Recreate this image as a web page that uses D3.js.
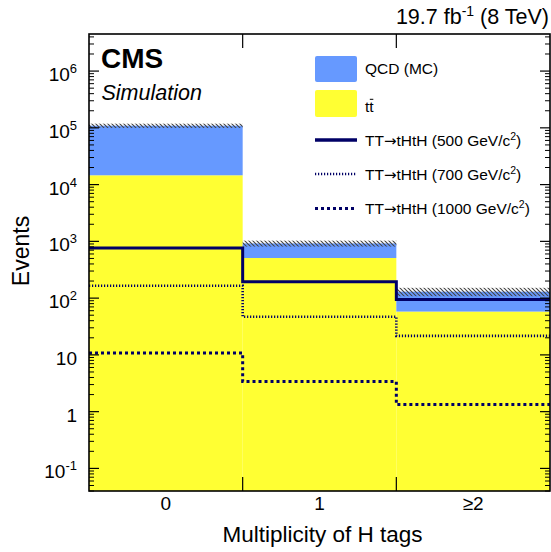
<!DOCTYPE html>
<html>
<head>
<meta charset="utf-8">
<script src="https://cdn.jsdelivr.net/npm/d3@7"></script>
<style>
  html, body { margin: 0; padding: 0; background: #fff; }
  svg { display: block; font-family: "Liberation Sans", Arial, Helvetica, sans-serif; }
</style>
</head>
<body>
<svg id="chart" width="551" height="552"></svg>
<script>
// ---------------- data ----------------
const categories = ["0", "1", "≥2"];
const ttbar   = [14600, 509, 58];
const qcd     = [94400, 411, 72];
const bkgErr  = [9500, 110, 22];
const sig500  = [766, 194, 95];
const sig700  = [165, 47, 21.6];
const sig1000 = [10.8, 3.4, 1.33];
const yMajorTicks = [0.1, 1, 10, 100, 1000, 10000, 100000, 1000000];
const yTickLabels = [["10", "-1"], ["1", ""], ["10", ""], ["10", "2"], ["10", "3"], ["10", "4"], ["10", "5"], ["10", "6"]];

// ---------------- layout ----------------
const svg = d3.select("#chart");
const L = 89, R = 550, T = 34, B = 491;
const x = d3.scaleBand().domain(categories).range([L, R]).paddingInner(0).paddingOuter(0);
const y = d3.scaleLog().domain([0.04, 4.5e6]).range([B, T]);

const blue = "#6699ff", yellow = "#ffff33", navy = "#000066";

const defs = svg.append("defs");
const pat = defs.append("pattern").attr("id", "hatch")
  .attr("patternUnits", "userSpaceOnUse").attr("width", 4).attr("height", 4);
pat.append("path").attr("d", "M-1,-1 L5,5 M3,-1 L5,1 M-1,3 L1,5")
  .attr("stroke", "#444").attr("stroke-width", 1.1);

const totals = ttbar.map((t, i) => t + qcd[i]);

// stacked fills
const g = svg.append("g");
g.selectAll("rect.tt").data(categories).join("rect")
  .attr("x", d => x(d)).attr("width", x.bandwidth())
  .attr("y", (d, i) => y(ttbar[i])).attr("height", (d, i) => B - y(ttbar[i]))
  .attr("fill", yellow);
g.selectAll("rect.qcd").data(categories).join("rect")
  .attr("x", d => x(d)).attr("width", x.bandwidth())
  .attr("y", (d, i) => y(totals[i])).attr("height", (d, i) => y(ttbar[i]) - y(totals[i]))
  .attr("fill", blue);
// uncertainty band
g.selectAll("rect.err").data(categories).join("rect")
  .attr("x", d => x(d)).attr("width", x.bandwidth())
  .attr("y", (d, i) => y(totals[i] + bkgErr[i]))
  .attr("height", (d, i) => y(totals[i] - bkgErr[i]) - y(totals[i] + bkgErr[i]))
  .attr("fill", "url(#hatch)");

// signal step lines
function stepPts(vals) {
  const pts = categories.map((c, i) => [x(c), y(vals[i])]);
  pts.push([R, y(vals[vals.length - 1])]);
  return pts;
}
const line = d3.line().curve(d3.curveStepAfter);
g.append("path").attr("d", line(stepPts(sig500))).attr("fill", "none")
  .attr("stroke", navy).attr("stroke-width", 3);
g.append("path").attr("d", line(stepPts(sig700))).attr("fill", "none")
  .attr("stroke", navy).attr("stroke-width", 2.6).attr("stroke-dasharray", "1.2,1.8");
g.append("path").attr("d", line(stepPts(sig1000))).attr("fill", "none")
  .attr("stroke", navy).attr("stroke-width", 3).attr("stroke-dasharray", "3,3");

// ---------------- axes / frame ----------------
const minor = [];
for (let k = -2; k <= 6; k++) for (let m = 2; m <= 9; m++) {
  const v = m * Math.pow(10, k);
  if (v >= 0.04 && v <= 4.5e6) minor.push(v);
}
const ax = svg.append("g").attr("stroke", "#000");
yMajorTicks.forEach(v => {
  ax.append("line").attr("x1", L).attr("x2", L + 10).attr("y1", y(v)).attr("y2", y(v)).attr("stroke-width", 1.2);
  ax.append("line").attr("x1", R).attr("x2", R - 10).attr("y1", y(v)).attr("y2", y(v)).attr("stroke-width", 1.2);
});
minor.forEach(v => {
  ax.append("line").attr("x1", L).attr("x2", L + 5).attr("y1", y(v)).attr("y2", y(v)).attr("stroke-width", 1);
  ax.append("line").attr("x1", R).attr("x2", R - 5).attr("y1", y(v)).attr("y2", y(v)).attr("stroke-width", 1);
});
categories.slice(1).forEach(c => {
  ax.append("line").attr("x1", x(c)).attr("x2", x(c)).attr("y1", B).attr("y2", B - 14).attr("stroke-width", 1.2);
  ax.append("line").attr("x1", x(c)).attr("x2", x(c)).attr("y1", T).attr("y2", T + 14).attr("stroke-width", 1.2);
});
ax.append("rect").attr("x", L).attr("y", T).attr("width", R - L).attr("height", B - T)
  .attr("fill", "none").attr("stroke-width", 1.6);

// y tick labels
yMajorTicks.forEach((v, i) => {
  const t = svg.append("text").attr("x", 77).attr("y", y(v) + 10)
    .attr("text-anchor", "end").attr("font-size", 19).attr("fill", "#000");
  t.append("tspan").text(yTickLabels[i][0]);
  if (yTickLabels[i][1]) t.append("tspan").attr("dy", -8).attr("font-size", 13).text(yTickLabels[i][1]);
});
// x tick labels
categories.forEach(c => {
  svg.append("text").attr("x", x(c) + x.bandwidth() / 2).attr("y", 510)
    .attr("text-anchor", "middle").attr("font-size", 19).text(c);
});
// axis titles
svg.append("text").attr("x", (L + R) / 2 + 3).attr("y", 542).attr("text-anchor", "middle")
  .attr("font-size", 22.5).text("Multiplicity of H tags");
svg.append("text").attr("transform", "translate(29,251) rotate(-90)").attr("text-anchor", "middle")
  .attr("font-size", 23).text("Events");

// top-right lumi
const lumi = svg.append("text").attr("x", 549).attr("y", 24).attr("text-anchor", "end").attr("font-size", 21.5);
lumi.append("tspan").text("19.7 fb");
lumi.append("tspan").attr("dy", -8).attr("font-size", 14).text("-1");
lumi.append("tspan").attr("dy", 8).text(" (8 TeV)");

// CMS labels
svg.append("text").attr("x", 101).attr("y", 67.7).attr("font-size", 28).attr("font-weight", "bold").text("CMS");
svg.append("text").attr("x", 101.5).attr("y", 100).attr("font-size", 21.5).attr("font-style", "italic").text("Simulation");

// ---------------- legend ----------------
const lg = svg.append("g");
const lx = 315, lw = 42, tx = 365, fs = 15.5;
lg.append("rect").attr("x", lx).attr("y", 56).attr("width", lw).attr("height", 26).attr("rx", 2).attr("fill", blue);
lg.append("text").attr("x", tx).attr("y", 74).attr("font-size", fs).text("QCD (MC)");
lg.append("rect").attr("x", lx).attr("y", 90).attr("width", lw).attr("height", 27).attr("rx", 2).attr("fill", yellow);
const ttText = lg.append("text").attr("x", tx).attr("y", 111.5).attr("font-size", fs);
ttText.append("tspan").text("t");
ttText.append("tspan").text("t");
const ttW = ttText.node().getComputedTextLength();
lg.append("line").attr("x1", tx + ttW / 2 + 0.5).attr("x2", tx + ttW - 0.3)
  .attr("y1", 99.3).attr("y2", 99.3).attr("stroke", "#000").attr("stroke-width", 1);

const sigRows = [
  { y: 140, mass: "500", dash: null, w: 3.5 },
  { y: 174, mass: "700", dash: "1.2,1.8", w: 2.6 },
  { y: 208.5, mass: "1000", dash: "3,3", w: 3 }
];
sigRows.forEach(r => {
  const ln = lg.append("line").attr("x1", lx).attr("x2", lx + lw).attr("y1", r.y).attr("y2", r.y)
    .attr("stroke", navy).attr("stroke-width", r.w);
  if (r.dash) ln.attr("stroke-dasharray", r.dash);
  const t = lg.append("text").attr("x", tx).attr("y", r.y + 5.8).attr("font-size", fs);
  t.append("tspan").text("TT");
  t.append("tspan").attr("font-family", "DejaVu Sans").attr("font-size", 15).text("→");
  t.append("tspan").text("tHtH (" + r.mass + " GeV/c");
  t.append("tspan").attr("dy", -6).attr("font-size", 10.5).text("2");
  t.append("tspan").attr("dy", 6).text(")");
});
</script>
</body>
</html>
